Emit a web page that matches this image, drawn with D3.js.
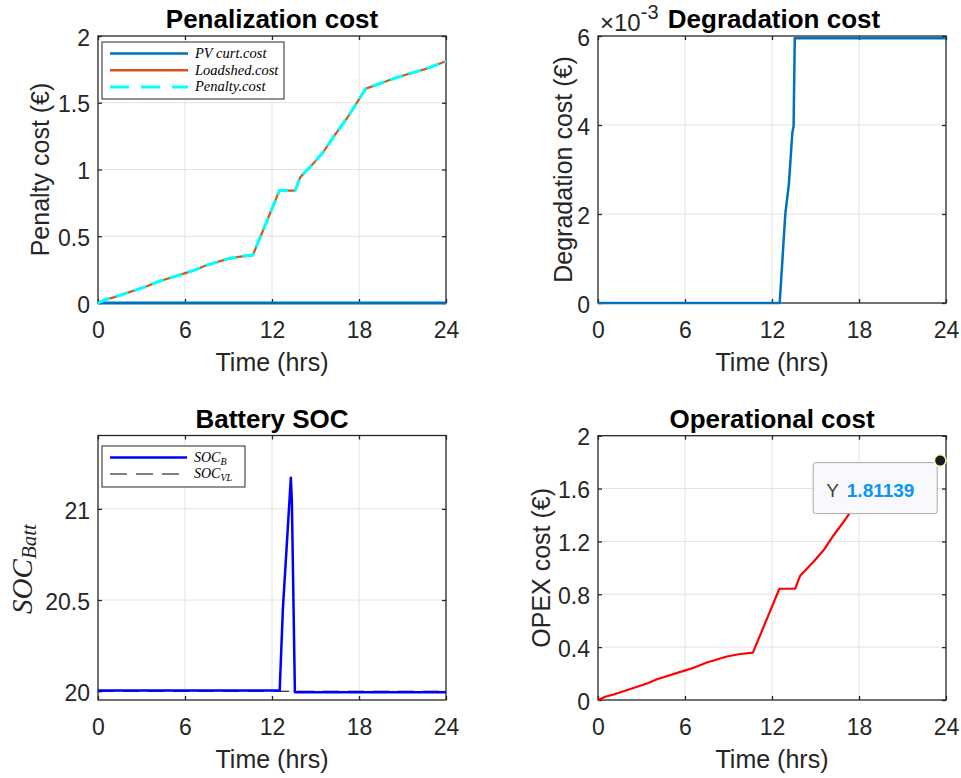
<!DOCTYPE html>
<html><head><meta charset="utf-8">
<script src="https://cdn.jsdelivr.net/npm/d3@7"></script>
<style>
html,body{margin:0;padding:0;background:#fff;}
svg{display:block;}
</style></head><body>
<svg id="chart" width="961" height="778"></svg>
<script>
// ---------------- data ----------------
const xTicks = [0, 6, 12, 18, 24];

const penTime = [0, 0.5, 1.08, 3.38, 4.07, 6.02, 6.6, 7.51, 8.89, 9.7, 10.68, 11.87, 12.51, 13.6, 13.94, 14.86, 15.55, 16.24, 17.16, 18.47, 19.45, 20.6, 22.67, 24];
const loadshedCost = [0, 0.025, 0.042, 0.125, 0.157, 0.224, 0.244, 0.284, 0.329, 0.346, 0.359, 0.672, 0.842, 0.842, 0.941, 1.046, 1.133, 1.245, 1.382, 1.606, 1.644, 1.689, 1.756, 1.811];
const penaltyCost  = [0, 0.025, 0.042, 0.125, 0.157, 0.224, 0.244, 0.284, 0.329, 0.346, 0.359, 0.672, 0.842, 0.842, 0.941, 1.046, 1.133, 1.245, 1.382, 1.606, 1.644, 1.689, 1.756, 1.811];
const pvTime = [0, 24];
const pvCurtCost = [0, 0];
const penYTicks = [0, 0.5, 1, 1.5, 2];

const degTime = [0, 12.53, 12.92, 13.17, 13.4, 13.49, 13.57, 24];
const degCost = [0, 0, 0.00201, 0.00269, 0.00382, 0.00397, 0.00595, 0.00595];
const degYTicks = [0, 0.002, 0.004, 0.006];

const socTime = [0, 12.53, 12.75, 13.3, 13.37, 13.58, 24];
const socB = [20.004, 20.004, 20.45, 21.17, 21.04, 19.995, 19.995];
const socVLTime = [0, 24];
const socVL = [20, 20];
const socYTicks = [20, 20.5, 21];

const opexTime = [0, 0.5, 1.08, 3.38, 4.07, 6.02, 6.6, 7.51, 8.89, 9.7, 10.68, 11.87, 12.51, 13.6, 13.94, 14.86, 15.55, 16.24, 17.16, 18.47, 19.45, 20.6, 22.67, 24];
const opexCost = [0, 0.025, 0.042, 0.125, 0.157, 0.224, 0.244, 0.284, 0.329, 0.346, 0.359, 0.672, 0.842, 0.842, 0.941, 1.046, 1.133, 1.245, 1.382, 1.606, 1.644, 1.689, 1.756, 1.81139];
const opexYTicks = [0, 0.4, 0.8, 1.2, 1.6, 2];
const datatip = {t: 23.6, y: 1.81139, label: "1.81139"};

// ---------------- drawing ----------------
const svg = d3.select('#chart');
const FONT = '"Liberation Sans", Arial, Helvetica, sans-serif';
const SERIF = '"Liberation Serif", "Times New Roman", serif';
const AX = '#262626';
const TICKFS = 23, LABELFS = 25, TITLEFS = 26;

function makePanel(o) {
  const g = svg.append('g');
  const x = d3.scaleLinear().domain([0, 24]).range([o.l, o.r]);
  const y = d3.scaleLinear().domain(o.yDomain).range([o.b, o.t]);
  // grid
  g.append('g').selectAll('line').data(xTicks.filter(d => d > 0 && d < 24)).join('line')
    .attr('x1', d => x(d)).attr('x2', d => x(d)).attr('y1', o.t).attr('y2', o.b)
    .attr('stroke', '#e2e2e2').attr('stroke-width', 1);
  g.append('g').selectAll('line').data(o.yTicks.filter(d => y(d) < o.b - 1 && y(d) > o.t + 1)).join('line')
    .attr('y1', d => y(d)).attr('y2', d => y(d)).attr('x1', o.l).attr('x2', o.r)
    .attr('stroke', '#e2e2e2').attr('stroke-width', 1);
  // axes
  const style = sel => {
    sel.select('.domain').remove();
    sel.selectAll('line').attr('stroke', AX).attr('stroke-width', 1.3);
    sel.selectAll('text').attr('fill', AX).attr('font-family', FONT).attr('font-size', TICKFS);
  };
  g.append('g').attr('transform', `translate(0,${o.b})`)
    .call(d3.axisBottom(x).tickValues(xTicks).tickSize(-4).tickPadding(19).tickFormat(d3.format('d')))
    .call(style);
  g.append('g').attr('transform', `translate(0,${o.t})`)
    .call(d3.axisTop(x).tickValues(xTicks).tickSize(-4).tickFormat(''))
    .call(style);
  g.append('g').attr('transform', `translate(${o.l},0)`)
    .call(d3.axisLeft(y).tickValues(o.yTicks).tickSize(-4).tickPadding(o.yPad || 8).tickFormat(o.yFmt))
    .call(style)
    .selectAll('text').attr('dy', '0.4em');
  g.append('g').attr('transform', `translate(${o.r},0)`)
    .call(d3.axisRight(y).tickValues(o.yTicks).tickSize(-4).tickFormat(''))
    .call(style);
  // frame
  g.append('rect').attr('x', o.l).attr('y', o.t).attr('width', o.r - o.l).attr('height', o.b - o.t)
    .attr('fill', 'none').attr('stroke', AX).attr('stroke-width', 1.3);
  // title
  g.append('text').attr('x', (o.l + o.r) / 2 + (o.titleDx || 0)).attr('y', o.t - 8)
    .attr('text-anchor', 'middle').attr('font-family', FONT).attr('font-weight', 'bold')
    .attr('font-size', TITLEFS).attr('fill', '#000').text(o.title);
  // x label
  g.append('text').attr('x', (o.l + o.r) / 2).attr('y', o.b + 68)
    .attr('text-anchor', 'middle').attr('font-family', FONT)
    .attr('font-size', LABELFS).attr('fill', AX).text('Time (hrs)');
  // y label
  if (o.yLabel) {
    g.append('text').attr('transform', `translate(${o.yLabelX},${(o.t + o.b) / 2}) rotate(-90)`)
      .attr('text-anchor', 'middle').attr('font-family', FONT)
      .attr('font-size', LABELFS).attr('fill', AX).text(o.yLabel);
  }
  return {g, x, y};
}

function drawLine(p, xs, ys, color, width, dash) {
  const pts = xs.map((t, i) => [t, ys[i]]);
  const line = d3.line().x(d => p.x(d[0])).y(d => p.y(d[1]));
  const path = p.g.append('path').datum(pts).attr('d', line)
    .attr('fill', 'none').attr('stroke', color).attr('stroke-width', width)
    .attr('stroke-linejoin', 'round');
  if (dash) path.attr('stroke-dasharray', dash);
  return path;
}

// ---- Panel 1: Penalization cost ----
const p1 = makePanel({l: 98, r: 446, t: 36, b: 303, yDomain: [0, 2], yTicks: penYTicks,
  yFmt: d3.format('~g'), title: 'Penalization cost', yLabel: 'Penalty cost (€)', yLabelX: 49});
drawLine(p1, pvTime, pvCurtCost, '#0072BD', 2.8);
drawLine(p1, penTime, loadshedCost, '#D95319', 2.2);
drawLine(p1, penTime, penaltyCost, '#00FFFF', 3, '13,6');

// legend 1
{
  const lg = p1.g.append('g');
  lg.append('rect').attr('x', 102).attr('y', 42).attr('width', 182).attr('height', 57)
    .attr('fill', '#fff').attr('stroke', AX).attr('stroke-width', 1);
  const items = [
    {c: '#0072BD', w: 2.5, d: null, t: 'PV curt.cost'},
    {c: '#D95319', w: 2.5, d: null, t: 'Loadshed.cost'},
    {c: '#00FFFF', w: 3, d: '19,12', t: 'Penalty.cost'}
  ];
  items.forEach((it, i) => {
    const yy = 53.5 + i * 16.7;
    const ln = lg.append('line').attr('x1', 110).attr('x2', 188).attr('y1', yy).attr('y2', yy)
      .attr('stroke', it.c).attr('stroke-width', it.w);
    if (it.d) ln.attr('stroke-dasharray', it.d);
    lg.append('text').attr('x', 195).attr('y', yy + 4.5).attr('font-family', SERIF)
      .attr('font-style', 'italic').attr('font-size', 14.5).attr('fill', '#000').text(it.t);
  });
}

// ---- Panel 2: Degradation cost ----
const p2 = makePanel({l: 598, r: 946, t: 36, b: 303, yDomain: [0, 0.006], yTicks: degYTicks,
  yFmt: d => String(Math.round(d * 1000)), title: 'Degradation cost', titleDx: 2,
  yLabel: 'Degradation cost (€)', yLabelX: 572});
drawLine(p2, degTime, degCost, '#0072BD', 2.5);
{
  const e = p2.g.append('text').attr('x', 600).attr('y', 31).attr('font-family', FONT)
    .attr('font-size', 24).attr('fill', AX);
  e.append('tspan').text('×10');
  e.append('tspan').attr('dy', -12).attr('font-size', 20).text('-3');
}

// ---- Panel 3: Battery SOC ----
const p3 = makePanel({l: 98, r: 446, t: 435.5, b: 700, yDomain: [19.952, 21.402], yTicks: socYTicks,
  yFmt: d3.format('~g'), title: 'Battery SOC', yLabel: null});
drawLine(p3, socVLTime, socVL, '#000', 1, '16,9');
drawLine(p3, socTime, socB, '#0000FF', 2.5);
{
  const t = p3.g.append('text').attr('transform', `translate(31.5,569) rotate(-90)`)
    .attr('text-anchor', 'middle').attr('font-family', SERIF).attr('font-style', 'italic')
    .attr('font-size', 29).attr('fill', AX);
  t.append('tspan').text('SOC');
  t.append('tspan').attr('dy', 4).attr('font-size', 21).text('Batt');
  const lg = p3.g.append('g');
  lg.append('rect').attr('x', 102).attr('y', 446).attr('width', 143).attr('height', 41)
    .attr('fill', '#fff').attr('stroke', AX).attr('stroke-width', 1);
  const items = [
    {c: '#0000FF', w: 2.5, d: null, s: 'B'},
    {c: '#000', w: 1, d: '17,9', s: 'VL'}
  ];
  items.forEach((it, i) => {
    const yy = 457.5 + i * 16.5;
    const ln = lg.append('line').attr('x1', 110).attr('x2', 187).attr('y1', yy).attr('y2', yy)
      .attr('stroke', it.c).attr('stroke-width', it.w);
    if (it.d) ln.attr('stroke-dasharray', it.d);
    const tx = lg.append('text').attr('x', 194).attr('y', yy + 4).attr('font-family', SERIF)
      .attr('font-style', 'italic').attr('font-size', 14).attr('fill', '#000');
    tx.append('tspan').text('SOC');
    tx.append('tspan').attr('dy', 3).attr('font-size', 10).text(it.s);
  });
}

// ---- Panel 4: Operational cost ----
const p4 = makePanel({l: 598, r: 946, t: 435.7, b: 700, yDomain: [0, 2], yTicks: opexYTicks,
  yFmt: d3.format('~g'), title: 'Operational cost', yLabel: 'OPEX cost (€)', yLabelX: 550});
drawLine(p4, opexTime, opexCost, '#FF0000', 2.2);
{
  const cx = p4.x(datatip.t), cy = p4.y(datatip.y);
  const bw = 124, bh = 51;
  const bx = cx - 3 - bw, by = cy + 2;
  p4.g.append('rect').attr('x', bx).attr('y', by).attr('width', bw).attr('height', bh)
    .attr('rx', 2.5).attr('fill', '#f9f9fd').attr('stroke', '#a9a9a9').attr('stroke-width', 1);
  const t = p4.g.append('text').attr('x', bx + 13).attr('y', by + 34).attr('font-family', FONT)
    .attr('font-size', 19);
  t.append('tspan').attr('fill', '#404040').text('Y ');
  t.append('tspan').attr('fill', '#0a95f5').attr('font-weight', 'bold').attr('dx', 3).text(datatip.label);
  p4.g.append('circle').attr('cx', cx).attr('cy', cy).attr('r', 5.8)
    .attr('fill', '#1a1a1a').attr('stroke', '#fff3bf').attr('stroke-width', 1.6);
}
</script>
</body></html>
